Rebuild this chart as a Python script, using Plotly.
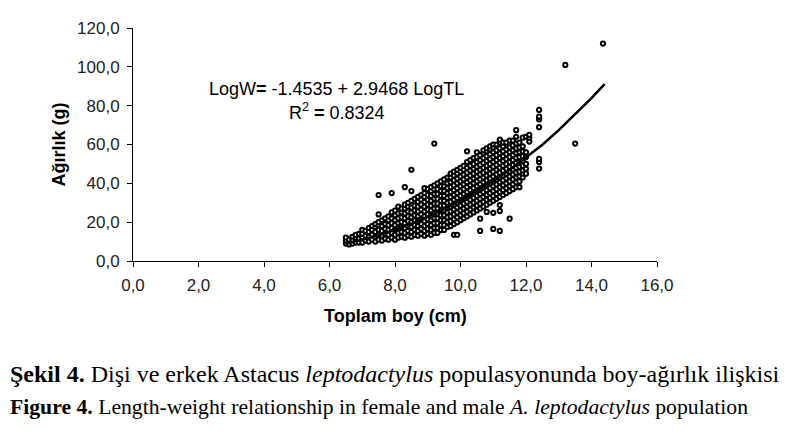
import plotly.graph_objects as go

# Total length columns (cm) and the weights (g) read at each column
tl_cols = [6.5, 6.6, 6.7, 6.8, 6.9, 7.0, 7.1, 7.2, 7.3, 7.4,
           7.5, 7.6, 7.7, 7.8, 7.9, 8.0, 8.1, 8.2, 8.3, 8.4,
           8.5, 8.6, 8.7, 8.8, 8.9, 9.0, 9.1, 9.2, 9.3, 9.4,
           9.5, 9.6, 9.7, 9.8, 9.9, 10.0, 10.1, 10.2, 10.3, 10.4,
           10.5, 10.6, 10.7, 10.8, 10.9, 11.0, 11.1, 11.2, 11.3, 11.4,
           11.5, 11.6, 11.7, 11.8, 11.9, 12.0, 12.1, 12.4, 13.2, 13.5, 14.35]

w_cols = [
    [9, 10.5, 12],
    [8.5, 11],
    [9, 11, 12.5],
    [9.5, 12, 13.5],
    [9.5, 11.5, 14],
    [9.5, 12, 14, 16],
    [10.5, 13, 15.5],
    [10, 12.5, 15, 17],
    [11, 13.5, 16, 18],
    [10, 12.5, 15, 17.5, 19],
    [11, 13.5, 16, 18.5, 20, 24, 34],
    [10.5, 13, 15.5, 18, 21],
    [11.5, 14, 16.5, 19, 22],
    [11, 13.5, 16, 18.5, 21, 23],
    [12, 14.5, 17, 19.5, 22, 25, 35],
    [11, 13.5, 16, 18.5, 21, 23.5, 26],
    [12, 14.5, 17, 19.5, 22, 24.5, 28],
    [12.5, 15, 17.5, 20, 22.5, 25, 27],
    [12, 14.5, 17, 19.5, 22, 24.5, 27, 29, 38],
    [13, 15.5, 18, 20.5, 23, 25.5, 28, 30],
    [12.5, 15, 17.5, 20, 22.5, 25, 27.5, 31, 36, 47],
    [13.5, 16, 18.5, 21, 23.5, 26, 28.5, 32],
    [13, 15.5, 18, 20.5, 23, 25.5, 28, 30.5, 33],
    [14, 16.5, 19, 21.5, 24, 26.5, 29, 31.5, 34],
    [13, 15.5, 18, 20.5, 23, 25.5, 28, 30.5, 33, 35, 37.5],
    [14, 16.5, 19, 21.5, 24, 26.5, 29, 31.5, 34, 37],
    [13.5, 16, 18.5, 21, 23.5, 26, 28.5, 31, 33.5, 36, 38],
    [14.5, 17, 19.5, 22, 24.5, 27, 29.5, 32, 34.5, 37, 39, 60.5],
    [14.5, 17, 19.5, 22, 24.5, 27, 29.5, 32, 34.5, 37, 40],
    [16, 18.5, 21, 23.5, 26, 28.5, 31, 33.5, 36, 38.5, 41],
    [16, 18.5, 21, 23.5, 26, 28.5, 31, 33.5, 36, 38.5, 42],
    [17.5, 20, 22.5, 25, 27.5, 30, 32.5, 35, 37.5, 40, 43],
    [18, 20.5, 23, 25.5, 28, 30.5, 33, 35.5, 38, 40.5, 43, 45],
    [13.5, 19, 21.5, 24, 26.5, 29, 31.5, 34, 36.5, 39, 41.5, 44, 46],
    [13.5, 20, 22.5, 25, 27.5, 30, 32.5, 35, 37.5, 40, 42.5, 45, 47],
    [21, 23.5, 26, 28.5, 31, 33.5, 36, 38.5, 41, 43.5, 46, 48],
    [22, 24.5, 27, 29.5, 32, 34.5, 37, 39.5, 42, 44.5, 47, 49],
    [23, 25.5, 28, 30.5, 33, 35.5, 38, 40.5, 43, 45.5, 48, 51, 56.5],
    [24, 26.5, 29, 31.5, 34, 36.5, 39, 41.5, 44, 46.5, 49, 52],
    [25, 27.5, 30, 32.5, 35, 37.5, 40, 42.5, 45, 47.5, 50, 53],
    [26, 28.5, 31, 33.5, 36, 38.5, 41, 43.5, 46, 48.5, 51, 53.5, 56],
    [15.5, 21.8, 27, 29.5, 32, 34.5, 37, 39.5, 42, 44.5, 47, 49.5, 52, 54.5],
    [28, 30.5, 33, 35.5, 38, 40.5, 43, 45.5, 48, 50.5, 53, 55.5, 57],
    [25.3, 29, 31.5, 34, 36.5, 39, 41.5, 44, 46.5, 49, 51.5, 54, 56.5, 58],
    [30, 32.5, 35, 37.5, 40, 42.5, 45, 47.5, 50, 52.5, 55, 57.5, 59],
    [16.5, 24.8, 31, 33.5, 36, 38.5, 41, 43.5, 46, 48.5, 51, 53.5, 56, 58.5, 60],
    [32, 34.5, 37, 39.5, 42, 44.5, 47, 49.5, 52, 54.5, 57, 60],
    [15.5, 25.8, 28.8, 33, 35.5, 38, 40.5, 43, 45.5, 48, 50.5, 53, 55.5, 58, 61, 62.5],
    [34, 36.5, 39, 41.5, 44, 46.5, 49, 51.5, 54, 56.5, 59, 61],
    [35, 37.5, 40, 42.5, 45, 47.5, 50, 52.5, 55, 57.5, 61],
    [21.8, 36, 38.5, 41, 43.5, 46, 48.5, 51, 53.5, 56, 58.5, 62],
    [37, 39.5, 42, 44.5, 47, 49.5, 52, 54.5, 57, 59.5, 62],
    [38, 40.5, 43, 45.5, 48, 50.5, 53, 55.5, 58, 60.5, 64, 67.4],
    [38, 41, 43.5, 46, 48.5, 51, 53.5, 56, 58.5, 61],
    [43, 46.6, 49, 51.5, 54, 56.5, 59, 63.5],
    [45, 47.5, 50, 53.5, 56, 64],
    [61.5, 63.5, 65],
    [47.6, 51, 52.6, 68.9, 72.9, 73.9, 74.4, 77.8],
    [101],
    [60.5],
    [112],
]

# Fitted curve
fit_tl = [6.5, 7.0, 7.5, 8.0, 8.5, 9.0, 9.5, 10.0, 10.5, 11.0, 11.5, 12.0, 12.5, 13.0, 13.5, 14.0, 14.4]
fit_w = [8.8, 10.9, 13.3, 16.1, 19.2, 22.8, 26.7, 31.2, 36.0, 41.2, 46.9, 53.3, 59.9, 67.4, 75.4, 83.9, 91.1]

x_ticks = [0, 2, 4, 6, 8, 10, 12, 14, 16]
y_ticks = [0, 20, 40, 60, 80, 100, 120]

pts_x, pts_y = [], []
for tl, ws in zip(tl_cols, w_cols):
    for w in ws:
        pts_x.append(tl)
        pts_y.append(w)

fig = go.Figure()
fig.add_trace(go.Scatter(
    x=pts_x, y=pts_y, mode="markers",
    marker=dict(symbol="circle", size=4.2, color="white",
                line=dict(color="black", width=2)),
    showlegend=False, hoverinfo="skip"))
fig.add_trace(go.Scatter(
    x=fit_tl, y=fit_w, mode="lines",
    line=dict(color="black", width=2.5),
    showlegend=False, hoverinfo="skip"))

font_sans = "Liberation Sans, Arial, sans-serif"
font_serif = "Liberation Serif, Times New Roman, serif"

axis_common = dict(showline=True, linecolor="black", linewidth=1,
                   ticks="outside", ticklen=5, tickcolor="black",
                   showgrid=False, zeroline=False, tickformat=".1f",
                   ticklabelstandoff=4,
                   tickfont=dict(size=17, color="#222", family=font_sans))

fig.update_layout(
    width=791, height=437,
    margin=dict(l=125, r=142, t=11, b=184),
    paper_bgcolor="white", plot_bgcolor="white",
    separators=",.",
    font=dict(family=font_sans, size=16, color="black"),
    xaxis=dict(range=[0, 16], tickvals=x_ticks, **axis_common),
    yaxis=dict(range=[0, 120], tickvals=y_ticks, **axis_common),
)

ann = [
    dict(text="<b>Toplam boy (cm)</b>", x=0.5, y=-0.2355, xanchor="center", yanchor="middle",
         font=dict(size=18, family=font_sans)),
    dict(text="<b>Ağırlık (g)</b>", x=-0.143, y=0.5, xanchor="center", yanchor="middle",
         textangle=-90, font=dict(size=18, family=font_sans)),
    dict(text="LogW<b>=</b> -1.4535 + 2.9468 LogTL", x=0.389, y=0.7397,
         xanchor="center", yanchor="middle", font=dict(size=18, family=font_sans)),
    dict(text="R<sup>2</sup> <b>=</b> 0.8324", x=0.389, y=0.6405,
         xanchor="center", yanchor="middle", font=dict(size=18, family=font_sans)),
    dict(text="<b>Şekil 4.</b> Dişi ve erkek Astacus <i>leptodactylus</i> populasyonunda boy-ağırlık ilişkisi",
         x=-0.2385, y=-0.4835, xanchor="left", yanchor="middle",
         font=dict(size=24, family=font_serif)),
    dict(text="<b>Figure 4.</b> Length-weight relationship in female and male <i>A. leptodactylus</i> population",
         x=-0.2385, y=-0.628, xanchor="left", yanchor="middle",
         font=dict(size=21.7, family=font_serif)),
]
for a in ann:
    a.update(xref="paper", yref="paper", showarrow=False)
fig.update_layout(annotations=ann)

fig.write_html("out.html")
